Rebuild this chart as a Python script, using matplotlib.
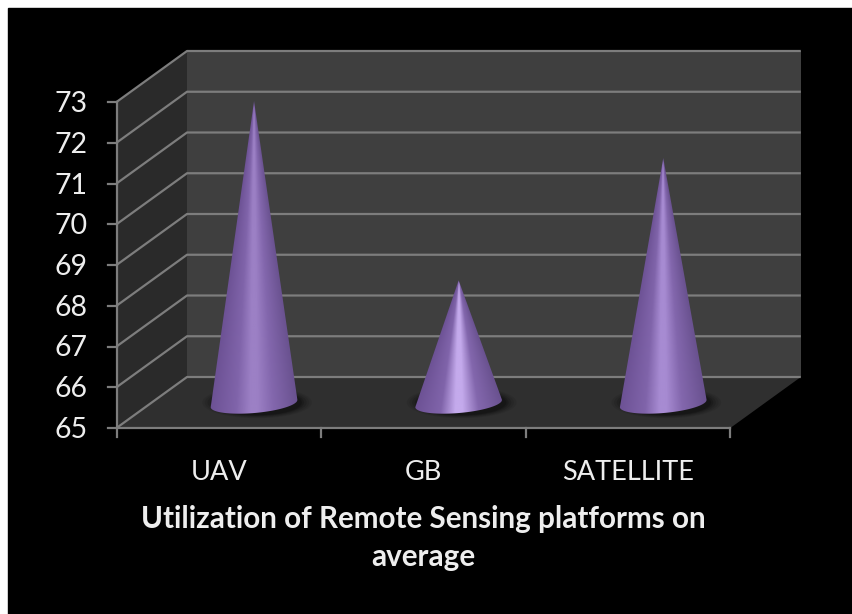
import numpy as np
import matplotlib
matplotlib.use("Agg")
import matplotlib.pyplot as plt
from matplotlib.colors import LinearSegmentedColormap
from matplotlib.patches import Ellipse, Polygon, Rectangle

categories = ["UAV", "GB", "SATELLITE"]
values = [72.4, 68.0, 71.0]
highlights = ["#9c80c5", "#c4aaec", "#a78bd2"]
y_ticks = [65, 66, 67, 68, 69, 70, 71, 72, 73]
title = "Utilization of Remote Sensing platforms on\naverage"

W, H = 853, 614
PX_X = 204.6   # pixels per category
PX_Y = 40.75   # pixels per value unit
X0, Y0 = 116.5, 428  # where category 0 / value 65 sits on the front plane
DX = 70.5 / PX_X     # depth of the box in data units
DY = 51 / PX_Y

plt.rcParams["font.family"] = ["Lato", "DejaVu Sans"]

fig = plt.figure(figsize=(W / 100, H / 100), dpi=100, facecolor="white")
ax = fig.add_axes([0, 0, 1, 1])
xlim = (-X0 / PX_X, (W - X0) / PX_X)
ylim = (65 - (H - Y0) / PX_Y, 65 + Y0 / PX_Y)
ax.axis("off")

# black panel, white strip on the top and left
ax.add_patch(Rectangle((xlim[0] + 8 / PX_X, ylim[0]), 900 / PX_X, (H - 8) / PX_Y,
                       color="black", zorder=0))

n = len(categories)
lo, hi = y_ticks[0], y_ticks[-1]

# box: side wall, back wall, floor
ax.add_patch(Polygon([(0, lo), (DX, lo + DY), (DX, hi + DY), (0, hi)],
                     color="#2a2a2a", lw=0, zorder=1))
ax.add_patch(Polygon([(DX, lo + DY), (n + DX, lo + DY), (n + DX, hi + DY), (DX, hi + DY)],
                     color="#3f3f3f", lw=0, zorder=1))
ax.add_patch(Polygon([(0, lo), (n, lo), (n + DX, lo + DY), (DX, lo + DY)],
                     color="#2f2f2f", lw=0, zorder=1))

grid = "#7d7d7d"
for t in y_ticks:
    ax.plot([0, DX, n + DX], [t, t + DY, t + DY], color=grid, lw=1.6, zorder=2,
            solid_capstyle="butt", solid_joinstyle="round")
    ax.plot([-9 / PX_X, 0], [t, t], color=grid, lw=1.6, zorder=2)
    ax.text(-29 / PX_X, t - 2 / PX_Y, str(t), color="#eeeeee", fontsize=20.5,
            ha="right", va="center", zorder=5)

# front axes
ax.plot([0, 0], [lo - 9 / PX_Y, hi], color=grid, lw=1.6, zorder=2)
ax.plot([0, n], [lo, lo], color=grid, lw=1.6, zorder=2)
for i in range(1, n + 1):
    ax.plot([i, i], [lo - 9 / PX_Y, lo], color=grid, lw=1.6, zorder=2)

for i, cat in enumerate(categories):
    ax.text(i + 0.5, lo - 44 / PX_Y, cat, color="#eeeeee", fontsize=19.5,
            ha="center", va="center", zorder=5)

# cones, shaded across their width so the shading converges on the tip
A = 43.5          # base half width, px
B = 9.5           # base half height, px
TILT = np.radians(5)
t_arc = np.linspace(0, 2 * np.pi, 361)

for i, (v, hl) in enumerate(zip(values, highlights)):
    cx = i + 0.5 + DX / 2
    cy = lo + DY / 2 - 1 / PX_Y
    tip = v + DY / 2

    # soft shadow on the floor
    for grow, a in zip([1.26, 1.20, 1.14, 1.08, 1.03], [0.07, 0.09, 0.12, 0.15, 0.18]):
        ax.add_patch(Ellipse((cx + 3 / PX_X, cy + 1 / PX_Y), 2 * A * grow / PX_X,
                             2 * (B + 3) * grow / PX_Y, angle=0, color="black",
                             alpha=a, lw=0, zorder=3))

    ex = A * np.cos(t_arc) * np.cos(TILT) - B * np.sin(t_arc) * np.sin(TILT)
    ey = A * np.cos(t_arc) * np.sin(TILT) + B * np.sin(t_arc) * np.cos(TILT)
    lower = ey < (ex * np.tan(TILT)) + 0.5
    order = np.argsort(ex[lower])
    outline = [(cx, tip)] + [(cx + px / PX_X, cy + py / PX_Y)
                             for px, py in zip(ex[lower][order][::-1], ey[lower][order][::-1])]
    clip = Polygon(outline, closed=True, transform=ax.transData, fc="none", ec="none")
    ax.add_patch(clip)

    x_grid = np.linspace(cx - 1.1 * A / PX_X, cx + 1.1 * A / PX_X, 240)
    y_grid = np.linspace(cy - 14 / PX_Y, tip, 500)
    gx, gy = np.meshgrid(x_grid, y_grid)
    span = np.clip((tip - gy) / (tip - cy), 0.002, None)
    u = np.clip((gx - cx) / (A / PX_X * span), -1, 1)

    cmap = LinearSegmentedColormap.from_list(
        "cone", [(0, "#6c5194"), (0.3, "#8064aa"), (0.46, hl), (0.54, hl),
                 (0.72, "#8367ad"), (1, "#6a5290")])
    img = ax.imshow((u + 1) / 2, cmap=cmap, vmin=0, vmax=1, origin="lower", aspect="auto",
                    extent=(x_grid[0], x_grid[-1], y_grid[0], y_grid[-1]), zorder=4)
    img.set_clip_path(clip)

ax.text(423 / PX_X - X0 / PX_X, 65 - (538 - Y0) / PX_Y, title, color="#eeeeee", fontsize=21.3,
        fontweight="bold", ha="center", va="center", linespacing=1.4, zorder=5)

ax.set_xlim(*xlim)
ax.set_ylim(*ylim)

fig.savefig("out.png", dpi=100, facecolor="white")
